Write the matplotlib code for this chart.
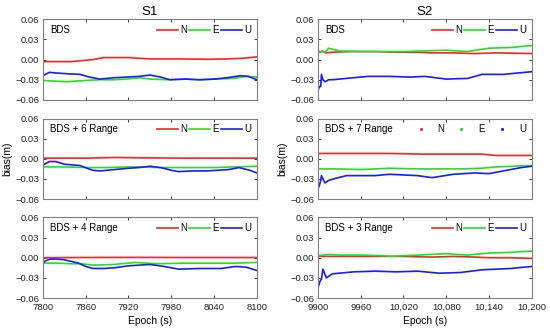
"""
Bias of N/E/U components for S1 and S2 with different BDS + range setups.
"""

import matplotlib.pyplot as plt
from matplotlib.ticker import FuncFormatter

plt.rcParams['font.family'] = ['Liberation Sans', 'DejaVu Sans']

# ---- S1 (7800 - 8100 s) ----
s1_bds_nx = [7800, 7840, 7870, 7885, 7920, 7950, 7990, 8030, 8060, 8080, 8100]
s1_bds_n = [-0.003, -0.003, 0.000, 0.003, 0.003, 0.001, 0.001, 0.0005, 0.001, 0.002, 0.004]
s1_bds_ex = [7800, 7833, 7860, 7880, 7900, 7917, 7936, 7950, 7973, 8000, 8020, 8045, 8067, 8086, 8100]
s1_bds_e = [-0.031, -0.033, -0.031, -0.030, -0.030, -0.029, -0.027, -0.029, -0.030, -0.029, -0.030, -0.029, -0.028, -0.025, -0.026]
s1_bds_ux = [7800, 7809, 7820, 7833, 7852, 7865, 7880, 7900, 7917, 7935, 7950, 7965, 7978, 8000, 8020, 8040, 8058, 8077, 8088, 8100]
s1_bds_u = [-0.024, -0.019, -0.020, -0.021, -0.022, -0.026, -0.029, -0.027, -0.026, -0.025, -0.023, -0.026, -0.030, -0.029, -0.030, -0.029, -0.027, -0.024, -0.025, -0.030]

s1_r6_nx = [7800, 7860, 7900, 7940, 8000, 8050, 8100]
s1_r6_n = [0.001, 0.001, 0.002, 0.0015, 0.001, 0.001, 0.001]
s1_r6_ex = [7800, 7830, 7860, 7890, 7920, 7940, 7960, 8000, 8040, 8070, 8100]
s1_r6_e = [-0.012, -0.012, -0.013, -0.013, -0.012, -0.012, -0.013, -0.013, -0.013, -0.012, -0.011]
s1_r6_ux = [7800, 7804, 7809, 7818, 7830, 7852, 7862, 7870, 7880, 7900, 7920, 7935, 7950, 7965, 7980, 7990, 8010, 8030, 8045, 8060, 8075, 8090, 8100]
s1_r6_u = [-0.009, -0.007, -0.004, -0.004, -0.008, -0.010, -0.014, -0.017, -0.018, -0.016, -0.014, -0.013, -0.011, -0.013, -0.017, -0.019, -0.018, -0.018, -0.017, -0.016, -0.013, -0.017, -0.021]

s1_r4_nx = [7800, 7850, 7900, 7950, 8000, 8050, 8100]
s1_r4_n = [0.000, 0.0003, 0.0005, 0.0005, 0.0003, 0.0003, 0.0003]
s1_r4_ex = [7800, 7820, 7840, 7855, 7870, 7900, 7930, 7960, 8000, 8040, 8070, 8100]
s1_r4_e = [-0.008, -0.008, -0.009, -0.009, -0.011, -0.010, -0.007, -0.009, -0.008, -0.008, -0.008, -0.007]
s1_r4_ux = [7800, 7805, 7810, 7820, 7830, 7850, 7860, 7870, 7885, 7900, 7920, 7950, 7970, 7990, 8020, 8050, 8070, 8085, 8100]
s1_r4_u = [-0.007, -0.004, -0.002, -0.002, -0.003, -0.008, -0.013, -0.016, -0.016, -0.015, -0.012, -0.010, -0.013, -0.017, -0.016, -0.016, -0.013, -0.014, -0.019]

# ---- S2 (9900 - 10200 s) ----
s2_bds_nx = [9900, 9903, 9906, 9910, 9920, 9950, 9980, 10010, 10040, 10060, 10090, 10120, 10150, 10200]
s2_bds_n = [0.014, 0.011, 0.013, 0.010, 0.011, 0.012, 0.012, 0.011, 0.011, 0.010, 0.010, 0.009, 0.010, 0.009]
s2_bds_ex = [9900, 9905, 9910, 9915, 9922, 9930, 9960, 9990, 10020, 10050, 10080, 10110, 10140, 10170, 10200]
s2_bds_e = [0.011, 0.012, 0.011, 0.017, 0.015, 0.013, 0.012, 0.012, 0.012, 0.013, 0.014, 0.012, 0.017, 0.018, 0.021]
s2_bds_ux = [9900, 9902, 9904, 9905, 9907, 9910, 9915, 9920, 9940, 9970, 10000, 10030, 10050, 10080, 10110, 10130, 10160, 10180, 10200]
s2_bds_u = [-0.047, -0.040, -0.040, -0.022, -0.030, -0.033, -0.030, -0.030, -0.028, -0.025, -0.025, -0.026, -0.025, -0.029, -0.028, -0.022, -0.022, -0.020, -0.018]

s2_r7_nx = [9900, 9950, 10000, 10050, 10100, 10130, 10150, 10200]
s2_r7_n = [0.008, 0.008, 0.008, 0.007, 0.007, 0.007, 0.005, 0.005]
s2_r7_ex = [9900, 9930, 9960, 10000, 10040, 10070, 10100, 10130, 10150, 10175, 10200]
s2_r7_e = [-0.015, -0.015, -0.016, -0.014, -0.015, -0.015, -0.015, -0.014, -0.012, -0.011, -0.010]
s2_r7_ux = [9900, 9902, 9904, 9905, 9908, 9910, 9915, 9925, 9940, 9980, 10000, 10040, 10060, 10090, 10120, 10140, 10160, 10185, 10200]
s2_r7_u = [-0.045, -0.040, -0.032, -0.025, -0.032, -0.036, -0.032, -0.029, -0.025, -0.025, -0.023, -0.025, -0.028, -0.023, -0.021, -0.022, -0.018, -0.013, -0.011]

s2_r3_nx = [9900, 9940, 9980, 10020, 10060, 10090, 10120, 10140, 10170, 10200]
s2_r3_n = [0.002, 0.002, 0.002, 0.002, 0.001, 0.002, 0.001, 0.000, 0.000, -0.001]
s2_r3_ex = [9900, 9915, 9930, 9960, 9995, 10000, 10040, 10080, 10110, 10140, 10170, 10200]
s2_r3_e = [0.003, 0.005, 0.004, 0.004, 0.003, 0.002, 0.004, 0.006, 0.004, 0.007, 0.008, 0.010]
s2_r3_ux = [9900, 9903, 9905, 9907, 9910, 9912, 9920, 9950, 9980, 10010, 10040, 10070, 10100, 10130, 10170, 10200]
s2_r3_u = [-0.045, -0.035, -0.032, -0.017, -0.025, -0.030, -0.024, -0.021, -0.020, -0.021, -0.020, -0.023, -0.022, -0.018, -0.016, -0.013]

labels_s1 = ['BDS', 'BDS + 6 Range', 'BDS + 4 Range']
labels_s2 = ['BDS', 'BDS + 7 Range', 'BDS + 3 Range']
y_ticks = [-0.06, -0.03, 0.00, 0.03, 0.06]
x_ticks_s1 = [7800, 7860, 7920, 7980, 8040, 8100]
x_ticks_s2 = [9900, 9960, 10020, 10080, 10140, 10200]
x_labels_s2 = ['9900', '9960', '10,020', '10,080', '10,140', '10,200']

RED = '#ff2020'
GREEN = '#22e022'
BLUE = '#1a1aff'
FRAME = '#808080'
TICK_FS = 6.8
FS = 7.0
AX_FS = 7.4


def draw_panel(ax, series, label, xlim, xticks, xlabels, marker_legend=False):
    names = ['N', 'E', 'U']
    cols = [RED, GREEN, BLUE]
    for (x, y), c, n in zip(series, cols, names):
        ax.plot(x, y, color=c, lw=1.2, label=n)
    ax.set_xlim(*xlim)
    ax.set_ylim(-0.06, 0.06)
    ax.set_yticks(y_ticks)
    ax.set_xticks(xticks)
    ax.tick_params(direction='in', top=True, right=True, length=2.5,
                   labelsize=TICK_FS, colors='#222222', width=0.6, pad=2.5)
    ax.tick_params(axis='x', pad=3.5)
    for s in ax.spines.values():
        s.set_color(FRAME)
        s.set_linewidth(0.8)
    ax.set_xticklabels(xlabels)
    ax.yaxis.set_major_formatter(FuncFormatter(
        lambda v, p: ('%.2f' % v).replace('-', '\u2212')))
    ax.text(0.035, 0.865, label, transform=ax.transAxes, fontsize=FS,
            va='center', ha='left')
    if marker_legend:
        hs = [plt.Line2D([], [], ls='none', marker='.', ms=2.5, color=c) for c in cols]
        ax.legend(hs, names, loc='upper right', ncol=3, frameon=False,
                  fontsize=FS, handlelength=1.5, columnspacing=1.0,
                  handletextpad=1.0, borderaxespad=0.2)
    else:
        ax.legend(loc='upper right', ncol=3, frameon=False, fontsize=FS,
                  handlelength=2.2, columnspacing=0.2, handletextpad=0.2,
                  borderaxespad=0.2)


def main():
    fig = plt.figure(figsize=(5.5, 3.33), dpi=100)
    bottoms = [0.700, 0.402, 0.105]
    h = 0.242
    w = 0.389

    s1 = [
        [(s1_bds_nx, s1_bds_n), (s1_bds_ex, s1_bds_e), (s1_bds_ux, s1_bds_u)],
        [(s1_r6_nx, s1_r6_n), (s1_r6_ex, s1_r6_e), (s1_r6_ux, s1_r6_u)],
        [(s1_r4_nx, s1_r4_n), (s1_r4_ex, s1_r4_e), (s1_r4_ux, s1_r4_u)],
    ]
    s2 = [
        [(s2_bds_nx, s2_bds_n), (s2_bds_ex, s2_bds_e), (s2_bds_ux, s2_bds_u)],
        [(s2_r7_nx, s2_r7_n), (s2_r7_ex, s2_r7_e), (s2_r7_ux, s2_r7_u)],
        [(s2_r3_nx, s2_r3_n), (s2_r3_ex, s2_r3_e), (s2_r3_ux, s2_r3_u)],
    ]

    for i in range(3):
        last = (i == 2)
        ax1 = fig.add_axes([0.078, bottoms[i], w, h])
        lab1 = [str(t) for t in x_ticks_s1] if last else [''] * len(x_ticks_s1)
        draw_panel(ax1, s1[i], labels_s1[i], (7800, 8100), x_ticks_s1, lab1)
        ax2 = fig.add_axes([0.578, bottoms[i], w, h])
        lab2 = x_labels_s2 if last else [''] * len(x_ticks_s2)
        draw_panel(ax2, s2[i], labels_s2[i], (9900, 10200), x_ticks_s2, lab2,
                   marker_legend=(i == 1))
        if i == 0:
            ax1.set_title('S1', fontsize=9.5, pad=3)
            ax2.set_title('S2', fontsize=9.5, pad=3)
        if i == 1:
            ax1.set_ylabel('bias(m)', fontsize=AX_FS, labelpad=2)
            ax2.set_ylabel('bias(m)', fontsize=AX_FS, labelpad=2)
        if last:
            ax1.set_xlabel('Epoch (s)', fontsize=AX_FS, labelpad=3)
            ax2.set_xlabel('Epoch (s)', fontsize=AX_FS, labelpad=3)

    fig.savefig('out.png', dpi=100)


if __name__ == '__main__':
    main()
